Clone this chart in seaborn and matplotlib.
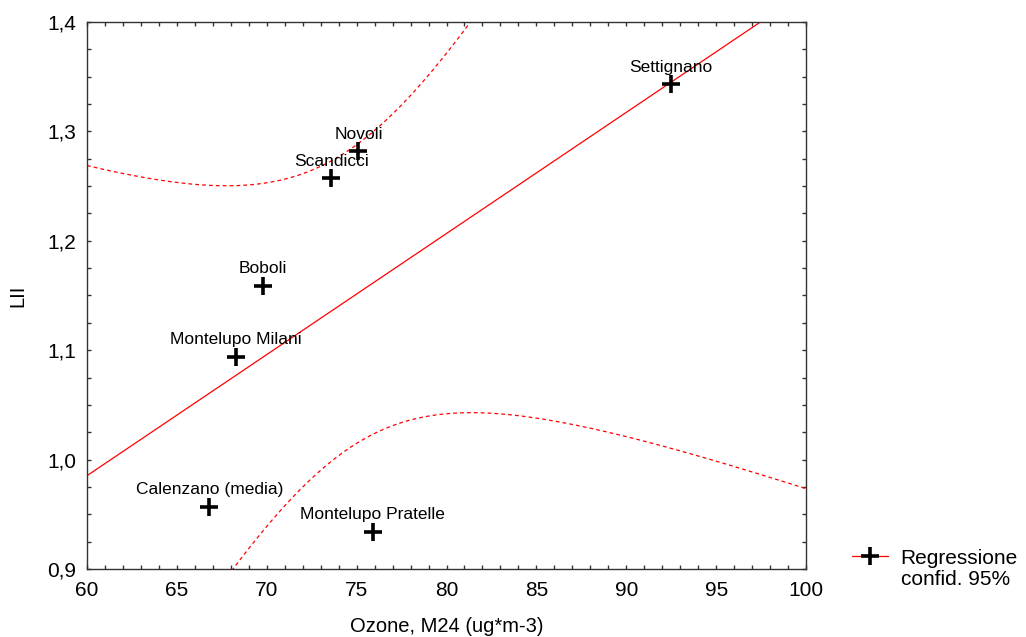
import numpy as np
import pandas as pd
import matplotlib
matplotlib.use("Agg")
import matplotlib.pyplot as plt
from matplotlib.lines import Line2D
from matplotlib.ticker import MultipleLocator, FuncFormatter
import seaborn as sns

sites = ["Settignano", "Novoli", "Scandicci", "Boboli", "Montelupo Milani",
         "Calenzano (media)", "Montelupo Pratelle"]
ozone = [92.5, 75.1, 73.6, 69.8, 68.3, 66.8, 75.9]
lii = [1.343, 1.282, 1.257, 1.159, 1.094, 0.957, 0.934]

x_ticks = [60, 65, 70, 75, 80, 85, 90, 95, 100]
y_ticks = [0.9, 1.0, 1.1, 1.2, 1.3, 1.4]

sns.set_theme(style="ticks")
plt.rcParams["font.family"] = ["Liberation Sans", "DejaVu Sans"]
plt.rcParams["text.color"] = "black"
plt.rcParams["axes.labelcolor"] = "black"
plt.rcParams["xtick.labelcolor"] = "black"
plt.rcParams["ytick.labelcolor"] = "black"

df = pd.DataFrame({"site": sites, "ozone": ozone, "lii": lii})

# linear fit with analytic 95% confidence band
x = df["ozone"].to_numpy()
y = df["lii"].to_numpy()
n = len(x)
slope, intercept = np.polyfit(x, y, 1)
resid = y - (slope * x + intercept)
s = np.sqrt((resid ** 2).sum() / (n - 2))
t975 = 2.5706  # t(0.975, df=5)
xx = np.linspace(60, 100, 400)
fit = slope * xx + intercept
half = t975 * s * np.sqrt(1 / n + (xx - x.mean()) ** 2 / ((x - x.mean()) ** 2).sum())
band = pd.DataFrame({"x": xx, "fit": fit, "lo": fit - half, "hi": fit + half})

fig = plt.figure(figsize=(10.26, 6.37), dpi=100)
ax = fig.add_axes([0.0848, 0.1068, 0.7008, 0.8587])

sns.lineplot(data=band, x="x", y="fit", color="red", lw=0.9, ax=ax)
sns.lineplot(data=band, x="x", y="hi", color="red", lw=0.9, ax=ax, linestyle=(0, (3, 2.5)))
sns.lineplot(data=band, x="x", y="lo", color="red", lw=0.9, ax=ax, linestyle=(0, (3, 2.5)))
sns.scatterplot(data=df, x="ozone", y="lii", marker="+", s=170, color="black",
                linewidth=2.6, ax=ax, zorder=5)

for _, r in df.iterrows():
    ax.annotate(r["site"], (r["ozone"], r["lii"]), xytext=(0, 9),
                textcoords="offset points", ha="center", va="baseline", fontsize=12.5)

ax.set_xlim(60, 100)
ax.set_ylim(0.9, 1.4)
ax.set_xticks(x_ticks)
ax.set_yticks(y_ticks)
ax.xaxis.set_minor_locator(MultipleLocator(1))
ax.yaxis.set_minor_locator(MultipleLocator(0.025))
ax.xaxis.set_major_formatter(FuncFormatter(lambda v, p: f"{v:.0f}"))
ax.yaxis.set_major_formatter(FuncFormatter(lambda v, p: f"{v:.1f}".replace(".", ",")))
ax.tick_params(which="both", direction="in", top=True, right=True, length=3,
               width=1, color="#333333", labelsize=15)
ax.tick_params(axis="x", which="major", pad=9)
ax.tick_params(axis="y", which="major", pad=8)
for sp in ax.spines.values():
    sp.set_color("#333333")
    sp.set_linewidth(1)

ax.set_xlabel("Ozone, M24 (ug*m-3)", fontsize=14.5, labelpad=12)
ax.set_ylabel("LII", fontsize=14.5, labelpad=14)

handles = [Line2D([], [], color="red", lw=0.9, marker="+", mec="black", ms=13, mew=2.6),
           Line2D([], [], color="none")]
fig.legend(handles, ["Regressione", "confid. 95%"], loc="upper left",
           bbox_to_anchor=(0.82, 0.155), frameon=False, fontsize=15,
           labelspacing=0.1, handlelength=1.75, handletextpad=0.6, borderpad=0)

fig.savefig("out.png", dpi=100)
